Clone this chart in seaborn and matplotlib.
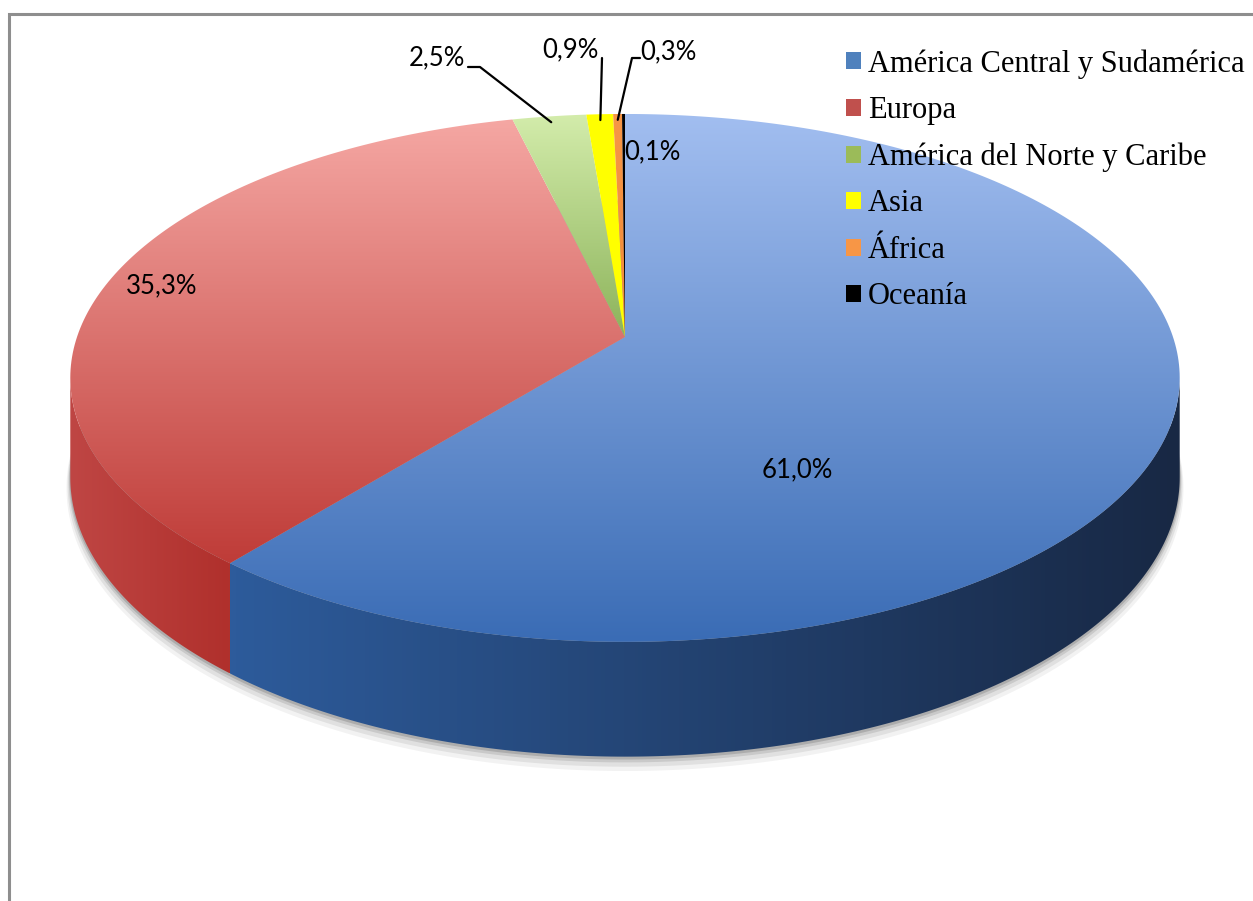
import numpy as np
import matplotlib.pyplot as plt
import seaborn as sns
from matplotlib.patches import Polygon, Rectangle, Patch

# Data
regions = ["América Central y Sudamérica", "Europa", "América del Norte y Caribe",
           "Asia", "África", "Oceanía"]
shares = [61.0, 35.3, 2.5, 0.9, 0.3, 0.1]
share_labels = ["61,0%", "35,3%", "2,5%", "0,9%", "0,3%", "0,1%"]

# Style: (top light, top dark, side left, side right, legend colour)
styles = [
    ("#a2bef0", "#3a6cb5", "#2d5b9b", "#182844", "#4f81bd"),
    ("#f5a7a3", "#bf3c38", "#bf4644", "#b0302c", "#c0504d"),
    ("#d3ecab", "#8cb35a", "#86ad52", "#7aa048", "#9bbb59"),
    ("#ffff00", "#ffff00", "#e6e600", "#e6e600", "#ffff00"),
    ("#f79646", "#f08a36", "#e07b2a", "#e07b2a", "#f79646"),
    ("#000000", "#000000", "#000000", "#000000", "#000000"),
]

sns.set_style("white")
plt.rcParams["font.family"] = ["Liberation Serif", "DejaVu Serif"]

W, H = 1253, 901
fig = plt.figure(figsize=(W / 100, H / 100), dpi=100)
ax = fig.add_axes([0, 0, 1, 1])
ax.axis("off")

# pie geometry (pixels) with a simple perspective
CX, CY = 625, 337
A, B, K, T = 548, 257.6, 0.155, 97


def project(theta, r=1.0, drop=0.0):
    x = r * np.sin(theta)
    z = r * np.cos(theta)
    s = 1.0 / (1.0 + K * z)
    return CX + A * x * s, CY - B * z * s + drop * s


def gradient_fill(poly_xy, c0, c1, vertical=True):
    cmap = sns.blend_palette([c0, c1], n_colors=256, as_cmap=True)
    patch = Polygon(poly_xy, closed=True, facecolor="none", edgecolor="none")
    ax.add_patch(patch)
    xs, ys = poly_xy[:, 0], poly_xy[:, 1]
    if vertical:
        grad = np.linspace(0, 1, 256).reshape(-1, 1)
    else:
        grad = np.linspace(0, 1, 256).reshape(1, -1)
    im = ax.imshow(grad, cmap=cmap, extent=(xs.min(), xs.max(), ys.max(), ys.min()),
                   origin="upper", aspect="auto", interpolation="bicubic", zorder=2)
    im.set_clip_path(patch)


fracs = np.array(shares) / np.sum(shares)
edges = np.concatenate([[0], np.cumsum(fracs)]) * 2 * np.pi
vis_lo, vis_hi = np.arccos(-K), 2 * np.pi - np.arccos(-K)

# soft shadow under the pie
th = np.linspace(0, 2 * np.pi, 400)
for off, a in [(10, 0.05), (7, 0.07), (4, 0.10), (2, 0.14)]:
    bx, by = project(th, 1.0 + off / 1500, T + off)
    ax.fill(bx, by, color="black", alpha=a, lw=0, zorder=1)

# sides
for i in range(len(shares)):
    t0, t1 = max(edges[i], vis_lo), min(edges[i + 1], vis_hi)
    if t1 <= t0:
        continue
    th = np.linspace(t0, t1, 200)
    tx, ty = project(th)
    bx, by = project(th, drop=T)
    poly = np.column_stack([np.r_[tx, bx[::-1]], np.r_[ty, by[::-1]]])
    c = styles[i]
    gradient_fill(poly, c[2], c[3], vertical=False)

# top faces
for i in range(len(shares)):
    th = np.linspace(edges[i], edges[i + 1], max(4, int(400 * fracs[i])))
    tx, ty = project(th)
    poly = np.column_stack([np.r_[CX, tx], np.r_[CY, ty]])
    c = styles[i]
    gradient_fill(poly, c[0], c[1])

# labels
lab_font = dict(family=["Lato", "DejaVu Sans"], fontsize=18.5, color="black", zorder=5)
ax.text(797, 470, share_labels[0], ha="center", va="center", **lab_font)
ax.text(162, 286, share_labels[1], ha="center", va="center", **lab_font)
ax.text(437, 58, share_labels[2], ha="center", va="center", **lab_font)
ax.text(570, 50, share_labels[3], ha="center", va="center", **lab_font)
ax.text(668, 52, share_labels[4], ha="center", va="center", **lab_font)
ax.text(652, 152, share_labels[5], ha="center", va="center", **lab_font)

# leader lines toward the small slices
mid = (edges[:-1] + edges[1:]) / 2
for i, (x0, y0, x1) in zip([2, 3, 4], [(468, 67, 480), (602, 58, 602), (640, 58, 632)]):
    px, py = project(mid[i], r=0.97)
    ax.plot([x0, x1, px], [y0, y0, py], color="black", lw=1.6, zorder=5)

# legend
handles = [Patch(facecolor=s[4], edgecolor="none") for s in styles]
leg = ax.legend(handles, regions, loc="upper left", bbox_to_anchor=(834 / W, 1 - 37 / H),
                frameon=False, fontsize=22, handlelength=0.48, handleheight=0.48,
                handletextpad=0.22, labelspacing=0.57, borderaxespad=0)
leg.set_zorder(6)
for t in leg.get_texts():
    t.set_color("black")

# chart area border
fig.patches.append(Rectangle((9 / W, -0.1), 1.2, 1.1 - 14 / H, transform=fig.transFigure,
                             facecolor="none", edgecolor="#8e8e8e", lw=2.2))

ax.set_xlim(0, W)
ax.set_ylim(H, 0)
fig.savefig("out.png", dpi=100)
